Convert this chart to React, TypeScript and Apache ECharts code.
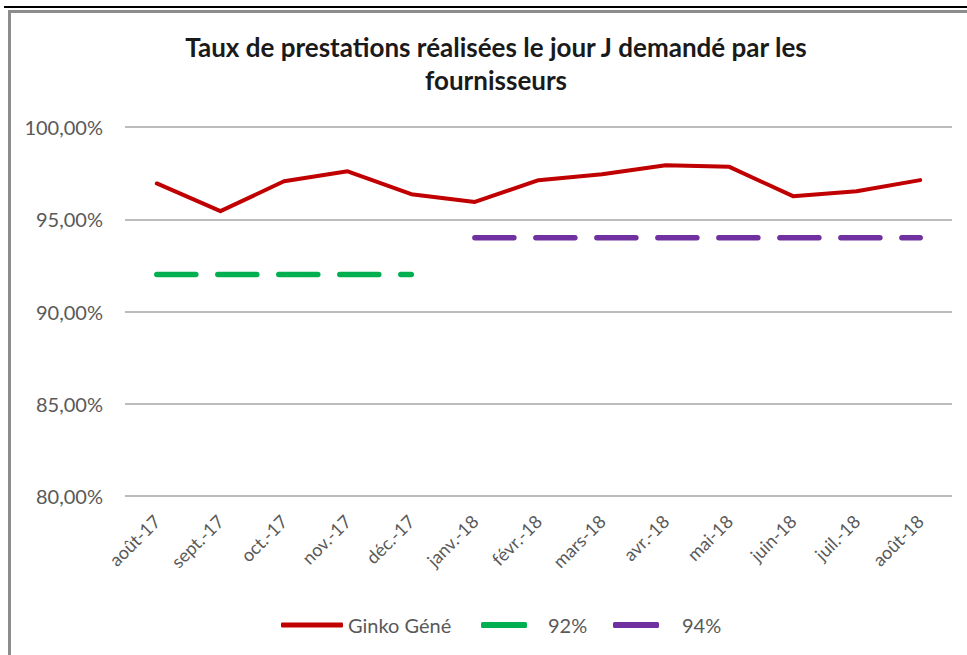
import React, { useEffect, useRef } from "react";
import * as echarts from "echarts";

const categories = [
  "août-17", "sept.-17", "oct.-17", "nov.-17", "déc.-17", "janv.-18", "févr.-18",
  "mars-18", "avr.-18", "mai-18", "juin-18", "juil.-18", "août-18",
];
const ginkoValues = [96.94, 95.44, 97.06, 97.6, 96.36, 95.94, 97.12, 97.44, 97.93, 97.84, 96.25, 96.52, 97.12];
const target92 = [92, 92, 92, 92, 92, null, null, null, null, null, null, null, null];
const target94 = [null, null, null, null, null, 94, 94, 94, 94, 94, 94, 94, 94];
const legendProxy: (number | null)[] = [];
const seriesNames = ["Ginko Géné", "92%", "94%"];
const seriesColors = ["#c00000", "#00b050", "#7030a0"];
const titleText = "Taux de prestations réalisées le jour J demandé par les\nfournisseurs";

export default function App() {
  const ref = useRef<HTMLDivElement>(null);
  useEffect(() => {
    document.body.style.margin = "0";
    const chart = echarts.init(ref.current!, null, { renderer: "svg" });
    const font = "Lato, 'Open Sans', sans-serif";
    const legendText = { fontSize: 20, color: "#595959", fontFamily: font };
    const legendItem = (i: number, width: number, left: number, pad: number) => ({
      bottom: 15,
      left,
      itemWidth: width,
      itemHeight: i === 0 ? 5 : 6,
      icon: "roundRect",
      textStyle: { ...legendText, padding: [0, 0, 0, pad] },
      data: [seriesNames[i]],
    });
    const proxy = (i: number) => ({
      name: seriesNames[i],
      type: "line",
      data: legendProxy,
      symbol: "none",
      color: seriesColors[i],
      lineStyle: { color: seriesColors[i], width: 1, type: "solid", cap: "round" },
    });
    chart.setOption({
      animation: false,
      backgroundColor: "#ffffff",
      textStyle: { fontFamily: font },
      title: {
        text: titleText,
        left: 491,
        top: 25,
        textAlign: "center",
        textStyle: { fontFamily: font, fontSize: 26, fontWeight: "bold", color: "#1a1a1a", lineHeight: 33 },
      },
      graphic: [
        { type: "line", shape: { x1: 4, y1: 7, x2: 967, y2: 7 }, style: { stroke: "#000", lineWidth: 2 } },
        { type: "rect", shape: { x: 9.5, y: 11.5, width: 1000, height: 700 }, style: { fill: "none", stroke: "#8c8c8c", lineWidth: 3 } },
      ],
      grid: { left: 125, right: 15, top: 127, bottom: 159, containLabel: false },
      xAxis: {
        type: "category",
        data: categories,
        boundaryGap: true,
        axisLine: { show: false },
        axisTick: { show: false },
        axisLabel: { rotate: 45, fontSize: 18, color: "#595959", margin: 22, fontFamily: font },
      },
      yAxis: {
        type: "value",
        min: 80,
        max: 100,
        interval: 5,
        axisLine: { show: false },
        axisTick: { show: false },
        splitLine: { lineStyle: { color: "#a6a6a6", width: 1.5 } },
        axisLabel: {
          fontSize: 20,
          color: "#595959",
          margin: 22,
          fontFamily: font,
          formatter: (v: number) => v.toFixed(2).replace(".", ",") + "%",
        },
      },
      legend: [
        legendItem(0, 62, 276, 0),
        legendItem(1, 46, 476, 16),
        legendItem(2, 46, 608, 18),
      ],
      series: [
        proxy(0),
        proxy(1),
        proxy(2),
        {
          name: seriesNames[0],
          type: "line",
          data: ginkoValues,
          symbol: "none",
          color: seriesColors[0],
          lineStyle: { color: seriesColors[0], width: 4, join: "round", cap: "round" },
        },
        {
          name: seriesNames[1],
          type: "line",
          data: target92,
          symbol: "none",
          color: seriesColors[1],
          lineStyle: { color: seriesColors[1], width: 5.5, type: [39, 22], cap: "round" },
        },
        {
          name: seriesNames[2],
          type: "line",
          data: target94,
          symbol: "none",
          color: seriesColors[2],
          lineStyle: { color: seriesColors[2], width: 5.5, type: [39, 22], cap: "round" },
        },
      ],
    });
    return () => chart.dispose();
  }, []);
  return <div ref={ref} style={{ width: 967, height: 655 }} />;
}
